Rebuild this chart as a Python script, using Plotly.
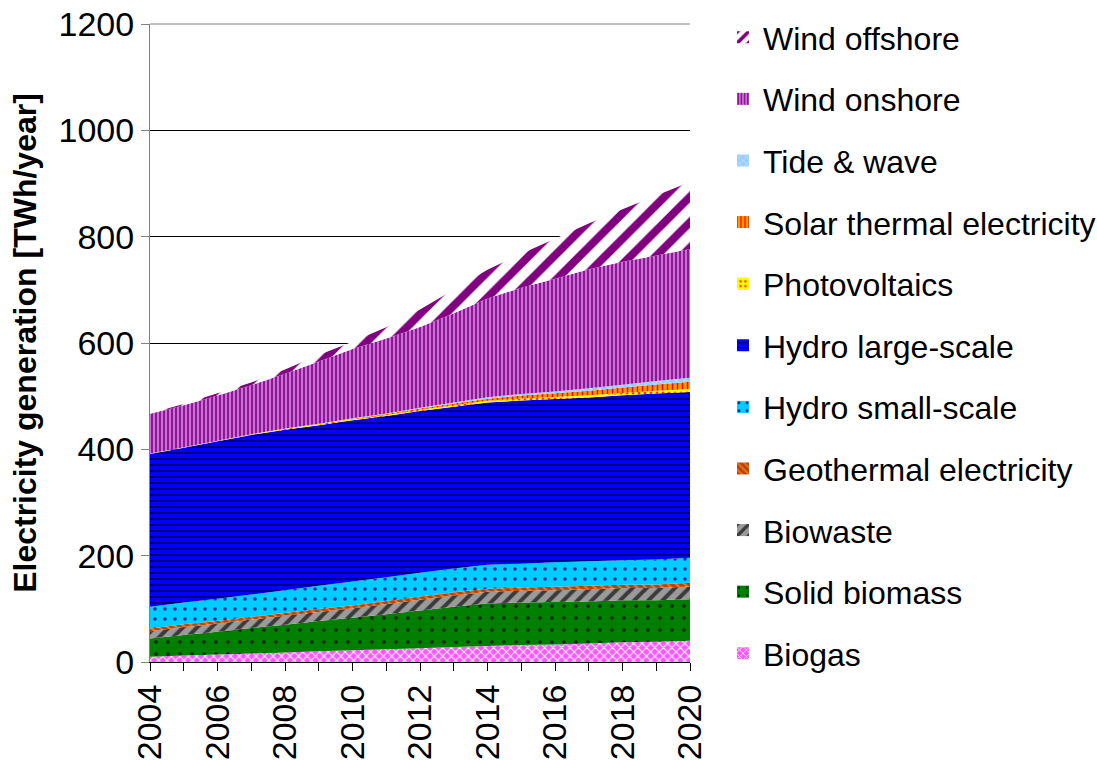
import plotly.graph_objects as go

# Years on the horizontal axis
years = list(range(2004, 2021))

# Electricity generation per technology [TWh/year]
biogas = [10, 12, 14, 16, 18, 20, 22, 24, 26, 28, 30, 32, 33, 35, 37, 38, 40]
solid_biomass = [34, 39, 43, 48, 52, 57, 61, 66, 71, 76, 80, 80, 80, 79, 79, 78, 78]
biowaste = [14, 15, 15, 16, 17, 17, 18, 19, 20, 21, 22, 22, 22, 23, 23, 23, 24]
geothermal = [5, 5, 5, 5, 5, 5.5, 5.5, 5.5, 6, 6, 6, 6, 6.5, 6.5, 6.5, 7, 7]
hydro_small = [41, 41, 42, 42, 43, 44, 45, 45, 45, 45, 45, 45, 46, 46, 46, 47, 47]
hydro_large = [287, 291, 296, 300, 302, 302, 303, 303, 304, 304, 305, 307, 307, 308, 310, 312, 312]
photovoltaics = [0.5, 0.6, 0.8, 1, 1.2, 1.5, 2, 2.3, 2.6, 3, 3.3, 3.6, 4, 4.3, 4.6, 5, 5.3]
solar_thermal = [0, 0, 0, 0, 0.2, 0.5, 1, 1.5, 2, 3, 4, 5.5, 7, 8.5, 10, 12, 14]
tide_wave = [0.5, 0.5, 0.5, 0.6, 0.7, 0.8, 1, 1.2, 1.5, 2, 2.5, 3, 3.5, 4.5, 5.5, 6.5, 7.5]
wind_onshore = [75, 79, 85, 92, 103, 117, 130, 141, 152, 168, 186, 200, 212, 224, 231, 236, 242]
wind_offshore = [1, 2, 4, 5, 8, 12, 14, 21, 33, 44, 54, 64, 75, 86, 99, 113, 126]

x_tick_values = list(range(2004, 2021, 2))
x_tick_labels = [str(y) for y in x_tick_values]
y_tick_values = list(range(0, 1201, 200))

# Stack order (bottom to top) with the fill pattern of each layer
layers = [
    ("Biogas", biogas, dict(shape="x", bgcolor="#FF55FF", fgcolor="#FFFFFF", size=6, solidity=0.3)),
    ("Solid biomass", solid_biomass, dict(shape=".", bgcolor="#007F00", fgcolor="#002000", size=12, solidity=0.07)),
    ("Biowaste", biowaste, dict(shape="/", bgcolor="#9A9A9A", fgcolor="#3A3A3A", size=10, solidity=0.4)),
    ("Geothermal electricity", geothermal, dict(shape="\\", bgcolor="#B84300", fgcolor="#F07020", size=6, solidity=0.4)),
    ("Hydro small-scale", hydro_small, dict(shape=".", bgcolor="#00CCFF", fgcolor="#0030A0", size=10, solidity=0.1)),
    ("Hydro large-scale", hydro_large, dict(shape="-", bgcolor="#0000FF", fgcolor="#000050", size=6, solidity=0.25)),
    ("Photovoltaics", photovoltaics, dict(shape=".", bgcolor="#FFFF00", fgcolor="#FF3300", size=6, solidity=0.2)),
    ("Solar thermal electricity", solar_thermal, dict(shape="|", bgcolor="#FF9900", fgcolor="#FF0000", size=5, solidity=0.3)),
    ("Tide & wave", tide_wave, dict(shape="x", bgcolor="#99CCFF", fgcolor="#E0F0FF", size=6, solidity=0.2)),
    ("Wind onshore", wind_onshore, dict(shape="|", bgcolor="#C870D8", fgcolor="#800080", size=4, solidity=0.4)),
    ("Wind offshore", wind_offshore, dict(shape="/", bgcolor="#FFFFFF", fgcolor="#800080", size=18, solidity=0.45)),
]

FONT = "Liberation Sans, Arial, sans-serif"

fig = go.Figure()

for name, values, pattern in layers:
    fig.add_trace(go.Scatter(
        x=years, y=values, name=name, mode="none",
        stackgroup="gen", fillcolor=pattern["bgcolor"],
        fillpattern=dict(fillmode="replace", **pattern),
        showlegend=False, legendgroup=name,
    ))

# Legend entries (top layer first) with square patterned swatches
for name, values, pattern in reversed(layers):
    fig.add_trace(go.Bar(
        x=[None], y=[None], name=name, legendgroup=name,
        marker=dict(color=pattern["bgcolor"], line=dict(width=0),
                    pattern=dict(fillmode="replace", **pattern)),
        showlegend=True,
    ))

fig.update_layout(
    width=1097, height=760,
    margin=dict(l=150, r=407, t=24, b=98, autoexpand=False),
    paper_bgcolor="white", plot_bgcolor="white",
    font=dict(family=FONT, color="black"),
    legend=dict(
        traceorder="grouped", tracegroupgap=17,
        x=1.0611, xanchor="left", y=1.022, yanchor="top",
        maxheight=760,
        font=dict(size=32, family=FONT),
        bgcolor="rgba(0,0,0,0)",
    ),
    xaxis=dict(
        range=[2004, 2020], tickvals=x_tick_values, ticktext=x_tick_labels,
        tickangle=-90, ticks="outside", ticklen=8, tickcolor="black",
        minor=dict(ticks="outside", dtick=1, ticklen=8, tickcolor="black", showgrid=False),
        showline=True, linecolor="black", linewidth=1, showgrid=False, zeroline=False,
        tickfont=dict(size=34, family=FONT), automargin=False,
    ),
    yaxis=dict(
        range=[0, 1200], tickvals=y_tick_values,
        ticks="outside", ticklen=8, tickcolor="#808080",
        showline=True, linecolor="#808080", linewidth=1,
        showgrid=True, gridcolor="#000000", gridwidth=1, zeroline=False,
        tickfont=dict(size=34, family=FONT), automargin=False,
        title=dict(text="Electricity generation [TWh/year]",
                   font=dict(size=32, family=FONT, weight="bold"), standoff=12),
    ),
    shapes=[dict(type="line", xref="paper", yref="paper", x0=0, x1=1, y0=1, y1=1,
                 line=dict(color="#808080", width=1), layer="below")],
)

fig.write_html("out.html")
